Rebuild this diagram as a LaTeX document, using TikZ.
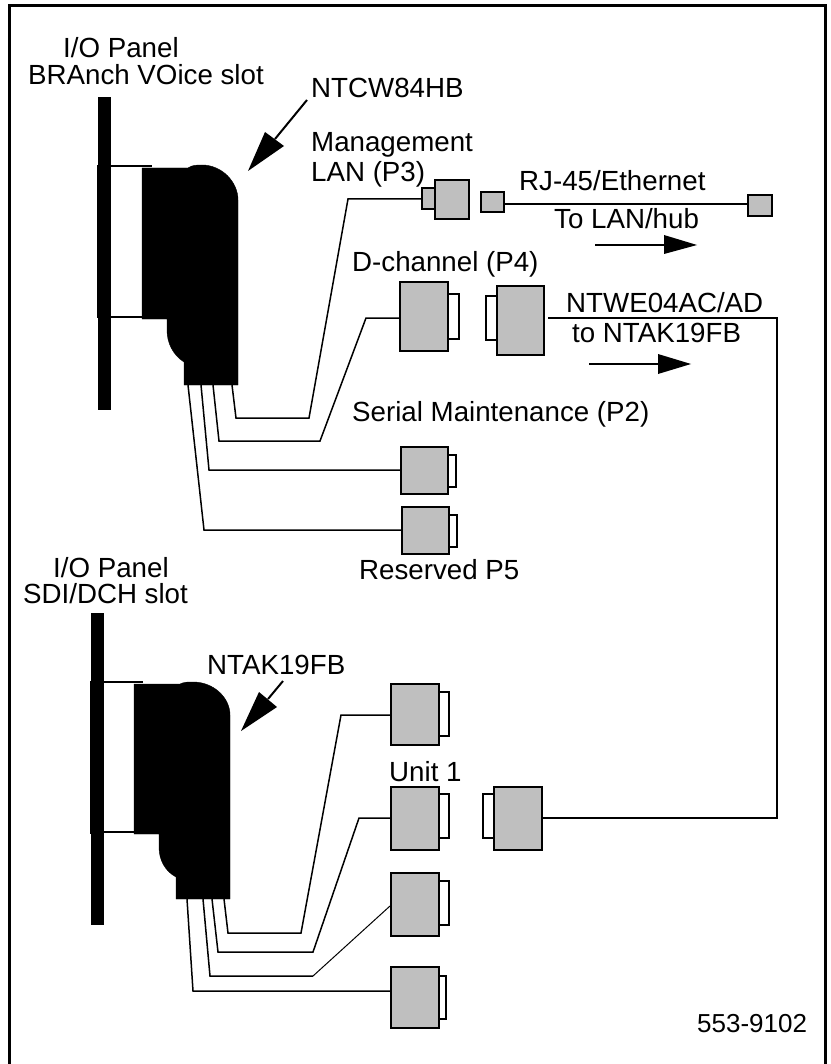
\documentclass[tikz,border=0pt]{standalone}
\usepackage{fontspec}
\setmainfont{Liberation Sans}
\tikzset{
  lbl/.style={anchor=base west, inner sep=0pt, font=\fontsize{27.7}{32}\selectfont},
  wire/.style={line width=1.5pt},
  thinwire/.style={line width=1pt},
  plug/.style={draw, line width=2pt, fill=black!25, inner sep=0pt},
  tab/.style={draw, line width=1.8pt, fill=white, inner sep=0pt},
  bulk/.style={fill=black, draw=black},
  callout/.style={line width=2pt},
  tip/.style={fill=black, draw=none}
}
\begin{document}
\begin{tikzpicture}[x=1pt,y=-1pt]
  \useasboundingbox (0,0) rectangle (830,1064);
  \draw[line width=3pt] (9.5,1064) -- (9.5,5.5) -- (825.5,5.5) -- (825.5,1064);

  % upper card
  \fill[bulk] (98,97) rectangle (110,409);
  \fill[bulk] (97,165) rectangle (110,317);
  \draw[line width=2pt] (110,166) -- (152,166);
  \draw[line width=2pt] (110,317) -- (142,317);
  \fill[bulk] (142,168) -- (188,168) .. controls (192,165) and (197,165) .. (202,165)
    .. controls (222,165) and (238,182) .. (238,200) -- (238,385) -- (184,385) -- (184,362)
    .. controls (173,355) and (167,343) .. (167,330) -- (167,319) -- (142,319) -- cycle;
  \node[lbl] (topcard) at (63,58) {I/O Panel};
  \node[lbl] (topslot) at (28,85) {BRAnch VOice slot};
  \node[lbl] (topname) at (311,98) {NTCW84HB};
  \coordinate (toptail) at (307,100);
  \coordinate (toptip) at (248,171);
  \draw[callout] (toptail) -- (275,139);
  \fill[tip] (toptip) -- (265,132) -- (284,146) -- cycle;

  % upper plugs
  \node[lbl] (mgmt) at (311,152) {Management};
  \node[lbl] (mgmtlan) at (311,182) {LAN (P3)};
  \node[plug, minimum width=13pt, minimum height=21pt] (p3tab) at (428.5,198.5) {};
  \node[plug, minimum width=34pt, minimum height=39pt] (p3) at (452,199.5) {};
  \node[plug, minimum width=23pt, minimum height=20pt] (rjnear) at (492.5,202) {};
  \node[plug, minimum width=24pt, minimum height=21pt] (rjfar) at (760,205.5) {};
  \draw[wire] (rjnear.east) ++(0,2) -- (rjfar.west |- 0,204);
  \node[lbl] (rjlabel) at (519,191) {RJ-45/Ethernet};
  \node[lbl] (lanlabel) at (554,229) {To LAN/hub};
  \coordinate (lantail) at (595,245);
  \coordinate (lantip) at (697,245);
  \draw[callout] (lantail) -- (664,245);
  \fill[tip] (lantip) -- (664,235) -- (664,254) -- cycle;

  \node[lbl] (dchlabel) at (352,272) {D-channel (P4)};
  \node[tab, minimum width=11pt, minimum height=45pt] (p4tab) at (453.5,316.5) {};
  \node[plug, minimum width=48pt, minimum height=69pt] (p4) at (424,316.5) {};
  \node[tab, minimum width=11pt, minimum height=44pt] (xtab) at (491.5,318) {};
  \node[plug, minimum width=47pt, minimum height=69pt] (xplug) at (520.5,320.5) {};
  \node[lbl] (xname) at (566,312) {NTWE04AC/AD};
  \node[lbl] (xto) at (572,342) {to NTAK19FB};
  \coordinate (xtail) at (589,364);
  \coordinate (xtip) at (691,364);
  \draw[callout] (xtail) -- (658,364);
  \fill[tip] (xtip) -- (658,354) -- (658,374) -- cycle;

  \node[lbl] (serial) at (352,421) {Serial Maintenance (P2)};
  \node[tab, minimum width=8pt, minimum height=32pt] (p2tab) at (452,471) {};
  \node[plug, minimum width=47pt, minimum height=47pt] (p2) at (424.5,470.5) {};
  \node[tab, minimum width=8pt, minimum height=32pt] (p5tab) at (453,531) {};
  \node[plug, minimum width=47pt, minimum height=47pt] (p5) at (425.5,530.5) {};
  \node[lbl] (reserved) at (359,579) {Reserved P5};

  % upper wires
  \draw[wire] (232,385) -- (236,418) -- (309,418) -- (348,199) -- (p3tab.west |- 0,199);
  \draw[wire] (213,385) -- (219,441) -- (320,441) -- (366,318) -- (p4.west |- 0,318);
  \draw[wire] (201,385) -- (209,470) -- (p2.west |- 0,470);
  \draw[wire] (188,385) -- (204,530) -- (p5.west |- 0,530);

  % lower card
  \fill[bulk] (91,613) rectangle (103,924);
  \fill[bulk] (90,681) rectangle (103,833);
  \draw[line width=2pt] (103,682) -- (143,682);
  \draw[line width=2pt] (103,832) -- (134,832);
  \fill[bulk] (134,684) -- (180,684) .. controls (184,682) and (188,682) .. (193,682)
    .. controls (214,682) and (230,698) .. (230,715) -- (230,899) -- (176,899) -- (176,877)
    .. controls (165,871) and (159,860) .. (159,847) -- (159,834) -- (134,834) -- cycle;
  \node[lbl] (lowcard) at (53,577) {I/O Panel};
  \node[lbl] (lowslot) at (23,603) {SDI/DCH slot};
  \node[lbl] (lowname) at (207,674) {NTAK19FB};
  \coordinate (lowtail) at (283,681);
  \coordinate (lowtip) at (241,731);
  \draw[callout] (lowtail) -- (268,699);
  \fill[tip] (lowtip) -- (259,692) -- (277,707) -- cycle;

  % lower plugs
  \node[tab, minimum width=10pt, minimum height=44pt] (u0tab) at (444,714) {};
  \node[plug, minimum width=48pt, minimum height=61pt] (u0) at (415,714.5) {};
  \node[lbl] (unit) at (389,781) {Unit 1};
  \node[tab, minimum width=10pt, minimum height=44pt] (u1tab) at (444,816) {};
  \node[plug, minimum width=48pt, minimum height=63pt] (u1) at (415,818.5) {};
  \node[tab, minimum width=11pt, minimum height=44pt] (ytab) at (488.5,816) {};
  \node[plug, minimum width=48pt, minimum height=63pt] (yplug) at (518,818.5) {};
  \node[tab, minimum width=10pt, minimum height=44pt] (u2tab) at (444,903) {};
  \node[plug, minimum width=48pt, minimum height=63pt] (u2) at (415,904.5) {};
  \node[tab, minimum width=7pt, minimum height=43pt] (u3tab) at (442.5,997.5) {};
  \node[plug, minimum width=48pt, minimum height=61pt] (u3) at (415,997.5) {};

  % lower wires
  \draw[wire] (224,899) -- (228,933) -- (301,933) -- (341,715) -- (u0.west |- 0,715);
  \draw[wire] (212,899) -- (218,952) -- (313,952) -- (359,818) -- (u1.west |- 0,818);
  \draw[wire] (203,899) -- (210,976) -- (313,976);
  \draw[thinwire] (313,976) -- (u2.west |- 0,906);
  \draw[wire] (187,899) -- (193,991) -- (u3.west |- 0,991);

  % long cross link
  \draw[wire] (548,318) -- (777,318) -- (777,818) -- (yplug.east |- 0,818);

  \node[lbl, font=\fontsize{26}{30}\selectfont] (drawingno) at (697,1032) {553-9102};
\end{tikzpicture}
\end{document}
